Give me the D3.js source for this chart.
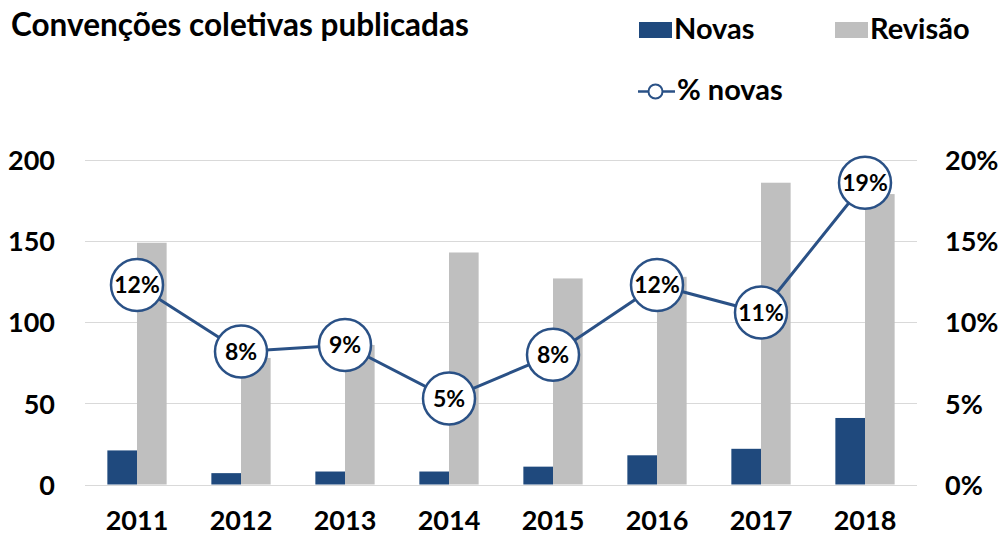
<!DOCTYPE html>
<html>
<head>
<meta charset="utf-8">
<script src="https://cdn.jsdelivr.net/npm/d3@7"></script>
<style>
  body { margin: 0; background: #fff; }
  svg text { font-family: Lato, "Open Sans", sans-serif; font-weight: bold; fill: #000; }
</style>
</head>
<body>
<svg class="chart"></svg>
<script>
const svgWidth = 1005;
const svgHeight = 536;

// data
const years = ["2011", "2012", "2013", "2014", "2015", "2016", "2017", "2018"];
const novas = [21, 7, 8, 8, 11, 18, 22, 41];
const revisao = [149, 78, 86, 143, 127, 128, 186, 179];
const pctNovas = [0.123, 0.082, 0.086, 0.053, 0.08, 0.123, 0.106, 0.186];
const leftTicks = [0, 50, 100, 150, 200];
const rightTicks = [0, 0.05, 0.10, 0.15, 0.20];
const seriesNames = ["Novas", "Revisão"];
const colors = ["#1f497d", "#bfbfbf"];
const lineColor = "#2a5186";

const svg = d3.select(".chart")
    .attr("width", svgWidth)
    .attr("height", svgHeight);

const plot = { left: 85, right: 917, top: 160, bottom: 484.5 };

const xScale = d3.scaleBand()
    .domain(years)
    .range([plot.left, plot.right])
    .paddingInner(0.43)
    .paddingOuter(0.215);

const subScale = d3.scaleBand()
    .domain(seriesNames)
    .range([0, xScale.bandwidth()]);

const yScale = d3.scaleLinear()
    .domain([0, 200])
    .range([plot.bottom, plot.top]);

const pctScale = d3.scaleLinear()
    .domain([0, 0.20])
    .range([plot.bottom, plot.top]);

// gridlines
svg.append("g")
    .selectAll("line")
    .data(leftTicks)
    .enter()
    .append("line")
    .attr("x1", plot.left)
    .attr("x2", plot.right)
    .attr("y1", d => Math.round(yScale(d)) + 0.5)
    .attr("y2", d => Math.round(yScale(d)) + 0.5)
    .attr("stroke", "#d9d9d9")
    .attr("stroke-width", 1);

// left axis
const leftAxis = svg.append("g")
    .attr("transform", "translate(" + (plot.left - 30) + ",0)")
    .call(d3.axisLeft(yScale).tickValues(leftTicks).tickSize(0).tickPadding(0));
leftAxis.select(".domain").remove();
leftAxis.selectAll("text")
    .attr("font-size", 27)
    .attr("dy", "0.36em");

// right axis
const rightAxis = svg.append("g")
    .attr("transform", "translate(" + (plot.right + 28) + ",0)")
    .call(d3.axisRight(pctScale).tickValues(rightTicks).tickFormat(d3.format(".0%")).tickSize(0).tickPadding(0));
rightAxis.select(".domain").remove();
rightAxis.selectAll("text")
    .attr("font-size", 27)
    .attr("dy", "0.36em");

// bottom axis labels
const bottomAxis = svg.append("g")
    .attr("transform", "translate(0," + plot.bottom + ")")
    .call(d3.axisBottom(xScale).tickSize(0).tickPadding(0));
bottomAxis.select(".domain").remove();
bottomAxis.selectAll("text")
    .attr("font-size", 27)
    .attr("dy", 0)
    .attr("y", 45);

// bars
const seriesData = [novas, revisao];
seriesData.forEach((values, s) => {
    svg.append("g")
        .selectAll("rect")
        .data(values)
        .enter()
        .append("rect")
        .attr("x", (d, i) => xScale(years[i]) + subScale(seriesNames[s]))
        .attr("width", subScale.bandwidth())
        .attr("y", d => yScale(d))
        .attr("height", d => yScale(0) - yScale(d))
        .attr("fill", colors[s]);
});

// % novas line
const line = d3.line()
    .x((d, i) => xScale(years[i]) + xScale.bandwidth() / 2)
    .y(d => pctScale(d));

svg.append("path")
    .datum(pctNovas)
    .attr("d", line)
    .attr("fill", "none")
    .attr("stroke", lineColor)
    .attr("stroke-width", 3);

const markers = svg.append("g")
    .selectAll("g")
    .data(pctNovas)
    .enter()
    .append("g")
    .attr("transform", (d, i) => "translate(" + (xScale(years[i]) + xScale.bandwidth() / 2) + "," + pctScale(d) + ")");

markers.append("circle")
    .attr("r", 26)
    .attr("fill", "#fff")
    .attr("stroke", lineColor)
    .attr("stroke-width", 2.5);

markers.append("text")
    .attr("text-anchor", "middle")
    .attr("dy", "0.36em")
    .attr("font-size", 23)
    .text(d => d3.format(".0%")(d));

// title
svg.append("text")
    .attr("x", 11)
    .attr("y", 36)
    .attr("font-size", 31.5)
    .text("Convenções coletivas publicadas");

// legend
const legend = svg.append("g");
const legendX = [639, 835];
seriesNames.forEach((name, i) => {
    legend.append("rect")
        .attr("x", legendX[i])
        .attr("y", 22)
        .attr("width", 33)
        .attr("height", 16)
        .attr("fill", colors[i]);
    legend.append("text")
        .attr("x", legendX[i] + 35)
        .attr("y", 39)
        .attr("font-size", 29)
        .text(name);
});

legend.append("line")
    .attr("x1", 638)
    .attr("x2", 675)
    .attr("y1", 91.5)
    .attr("y2", 91.5)
    .attr("stroke", lineColor)
    .attr("stroke-width", 2.5);
legend.append("circle")
    .attr("cx", 655.5)
    .attr("cy", 91.5)
    .attr("r", 7)
    .attr("fill", "#fff")
    .attr("stroke", lineColor)
    .attr("stroke-width", 2);
legend.append("text")
    .attr("x", 677)
    .attr("y", 100)
    .attr("font-size", 29)
    .text("% novas");
</script>
</body>
</html>
